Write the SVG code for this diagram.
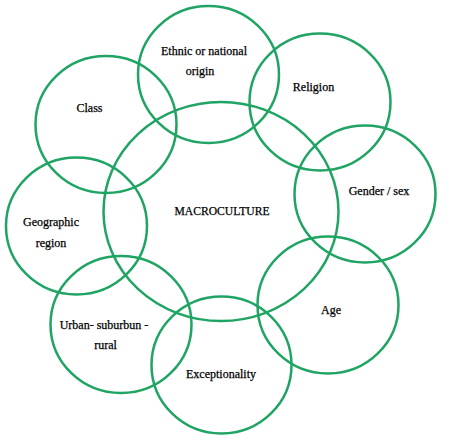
<svg xmlns="http://www.w3.org/2000/svg" width="457" height="448" viewBox="0 0 457 448">
<style>
.c{fill:none;stroke:#1fa463;stroke-width:2.5}
text{font-family:"Liberation Serif","Times New Roman",serif;font-size:12px;fill:#000;stroke:#000;stroke-width:0.25;text-anchor:middle}
</style>
<rect width="457" height="448" fill="#fff"/>
<g id="macroculture"><ellipse class="c" cx="221" cy="211.5" rx="117.5" ry="109.5"/><text x="222" y="215" textLength="95" lengthAdjust="spacingAndGlyphs">MACROCULTURE</text></g>
<g id="ethnic"><ellipse class="c" cx="208.5" cy="74.5" rx="70.5" ry="68.5"/><text x="204" y="55">Ethnic or national</text><text x="200" y="75">origin</text></g>
<g id="religion"><ellipse class="c" cx="320" cy="102" rx="70.5" ry="68.5"/><text x="313.5" y="91">Religion</text></g>
<g id="class"><ellipse class="c" cx="106" cy="124.5" rx="70.5" ry="68.5"/><text x="89.5" y="112">Class</text></g>
<g id="gender"><ellipse class="c" cx="365" cy="194" rx="70.5" ry="68.5"/><text x="379" y="195">Gender / sex</text></g>
<g id="geographic"><ellipse class="c" cx="76.5" cy="226" rx="70.5" ry="68.5"/><text x="51" y="226">Geographic</text><text x="51" y="247">region</text></g>
<g id="age"><ellipse class="c" cx="328" cy="305" rx="70.5" ry="68.5"/><text x="331" y="314">Age</text></g>
<g id="urban"><ellipse class="c" cx="121" cy="324.5" rx="70.5" ry="68.5"/><text x="104" y="329">Urban- suburbun -</text><text x="105.5" y="349">rural</text></g>
<g id="exceptionality"><ellipse class="c" cx="221.5" cy="365" rx="70" ry="68.5"/><text x="221" y="378">Exceptionality</text></g>
<g id="connectors"/>
</svg>
